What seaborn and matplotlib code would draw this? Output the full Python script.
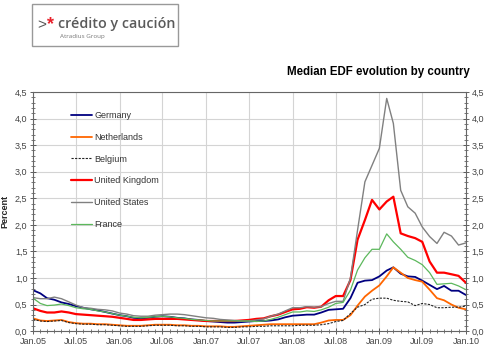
import matplotlib
matplotlib.use("Agg")
import matplotlib.pyplot as plt
import matplotlib.dates as mdates
import seaborn as sns
import numpy as np
import pandas as pd
from matplotlib.patches import Rectangle

# Median EDF per month, Jan.05 .. Jan.10 (61 points)
months = pd.date_range("2005-01-01", "2010-01-01", freq="MS")

germany = [0.77, 0.71, 0.62, 0.59, 0.54, 0.51, 0.47, 0.44, 0.41, 0.39, 0.36, 0.33,
           0.30, 0.28, 0.25, 0.24, 0.25, 0.27, 0.28, 0.27, 0.25, 0.24, 0.22, 0.21,
           0.19, 0.18, 0.17, 0.16, 0.16, 0.17, 0.18, 0.19, 0.19, 0.20, 0.22, 0.26,
           0.29, 0.30, 0.31, 0.31, 0.35, 0.40, 0.41, 0.42, 0.62, 0.91, 0.95, 0.96,
           1.03, 1.14, 1.20, 1.08, 1.03, 1.02, 0.95, 0.87, 0.79, 0.85, 0.76, 0.76,
           0.68]
netherlands = [0.24, 0.20, 0.19, 0.20, 0.21, 0.17, 0.15, 0.14, 0.14, 0.13, 0.13, 0.12,
               0.11, 0.10, 0.10, 0.10, 0.11, 0.12, 0.12, 0.12, 0.11, 0.11, 0.10, 0.10,
               0.09, 0.09, 0.09, 0.08, 0.08, 0.09, 0.10, 0.11, 0.12, 0.13, 0.13, 0.13,
               0.13, 0.13, 0.13, 0.13, 0.16, 0.20, 0.21, 0.21, 0.30, 0.48, 0.65, 0.76,
               0.86, 1.03, 1.20, 1.10, 1.00, 0.96, 0.93, 0.78, 0.62, 0.58, 0.50, 0.44,
               0.41]
belgium = [0.22, 0.19, 0.18, 0.19, 0.20, 0.16, 0.14, 0.13, 0.13, 0.12, 0.12, 0.11,
           0.10, 0.09, 0.09, 0.09, 0.10, 0.11, 0.11, 0.11, 0.10, 0.10, 0.09, 0.09,
           0.08, 0.08, 0.08, 0.07, 0.07, 0.08, 0.08, 0.09, 0.09, 0.10, 0.10, 0.10,
           0.10, 0.11, 0.11, 0.11, 0.12, 0.14, 0.18, 0.20, 0.33, 0.45, 0.50, 0.60,
           0.62, 0.62, 0.58, 0.56, 0.55, 0.48, 0.52, 0.50, 0.44, 0.44, 0.45, 0.45,
           0.47]
uk = [0.43, 0.38, 0.35, 0.35, 0.37, 0.35, 0.32, 0.31, 0.30, 0.29, 0.28, 0.27,
      0.25, 0.23, 0.21, 0.21, 0.22, 0.23, 0.23, 0.23, 0.23, 0.22, 0.21, 0.20,
      0.19, 0.19, 0.19, 0.19, 0.19, 0.20, 0.21, 0.23, 0.24, 0.28, 0.31, 0.36,
      0.41, 0.42, 0.45, 0.44, 0.46, 0.58, 0.66, 0.66, 0.96, 1.72, 2.09, 2.47,
      2.29, 2.44, 2.53, 1.84, 1.79, 1.75, 1.68, 1.31, 1.10, 1.10, 1.07, 1.04,
      0.91]
us = [0.63, 0.61, 0.61, 0.64, 0.61, 0.55, 0.49, 0.44, 0.43, 0.41, 0.40, 0.38,
      0.34, 0.32, 0.29, 0.28, 0.28, 0.30, 0.31, 0.32, 0.32, 0.31, 0.29, 0.27,
      0.25, 0.24, 0.22, 0.21, 0.20, 0.19, 0.19, 0.21, 0.23, 0.28, 0.32, 0.38,
      0.44, 0.44, 0.46, 0.45, 0.46, 0.52, 0.56, 0.56, 1.00, 1.90, 2.81, 3.12,
      3.44, 4.38, 3.91, 2.65, 2.34, 2.22, 1.96, 1.78, 1.65, 1.86, 1.79, 1.62,
      1.66]
france = [0.62, 0.52, 0.48, 0.49, 0.51, 0.48, 0.44, 0.42, 0.41, 0.38, 0.36, 0.33,
          0.30, 0.28, 0.26, 0.25, 0.26, 0.27, 0.28, 0.27, 0.25, 0.24, 0.22, 0.21,
          0.20, 0.19, 0.19, 0.19, 0.19, 0.19, 0.19, 0.18, 0.19, 0.22, 0.26, 0.31,
          0.36, 0.36, 0.38, 0.37, 0.40, 0.45, 0.52, 0.54, 0.77, 1.15, 1.38, 1.54,
          1.54, 1.83, 1.68, 1.54, 1.39, 1.33, 1.25, 1.10, 0.88, 0.89, 0.90, 0.85,
          0.78]

countries = ["Germany", "Netherlands", "Belgium", "United Kingdom", "United States", "France"]
series = [germany, netherlands, belgium, uk, us, france]

colores = ["#000080", "#FF6600", "#222222", "#FF0000", "#808080", "#5CB85C"]
grosores = [1.3, 1.3, 0.8, 1.6, 1.0, 0.9]

sns.set_theme(style="white")
plt.rcParams["font.family"] = ["Liberation Sans", "DejaVu Sans"]

fig = plt.figure(figsize=(4.93, 3.5), dpi=100)
ax = fig.add_axes([0.067, 0.054, 0.878, 0.683])

for nombre, vals, c, lw in zip(countries, series, colores, grosores):
    kw = {}
    if nombre == "Belgium":
        kw["dashes"] = (2, 1.2)
    sns.lineplot(x=months, y=vals, ax=ax, color=c, linewidth=lw, label=nombre, **kw)

# ejes
ax.set_xlim(months[0], months[-1])
ax.set_ylim(0, 4.5)
ax.set_yticks(np.arange(0, 4.51, 0.5))
ax.set_yticklabels([f"{v:.1f}".replace(".", ",") for v in np.arange(0, 4.51, 0.5)])
ax.yaxis.set_minor_locator(matplotlib.ticker.MultipleLocator(0.1))
ax.xaxis.set_major_locator(mdates.MonthLocator(bymonth=[1, 7]))
ax.xaxis.set_major_formatter(mdates.DateFormatter("%b.%y"))
ax.xaxis.set_minor_locator(mdates.MonthLocator())

ax.grid(True, which="major", color="#d4d4d4", linewidth=0.8)
ax.tick_params(axis="both", which="major", labelsize=6.5, colors="#444444",
               direction="inout", length=4, width=0.6, pad=2)
ax.tick_params(axis="both", which="minor", direction="inout", length=2.5,
               width=0.5, colors="#444444")
ax.tick_params(axis="y", which="both", left=True, right=True, labelright=True)
ax.tick_params(axis="x", which="both", bottom=True)

for s in ax.spines.values():
    s.set_color("#666666")
    s.set_linewidth(0.8)

ax.set_xlabel("")
ax.set_ylabel("Percent", fontsize=6.5, weight="bold", labelpad=4)

leg = ax.legend(loc="upper left", bbox_to_anchor=(0.07, 0.955), frameon=False,
                fontsize=6.5, handlelength=2.3, handletextpad=0.25, labelspacing=1.42)
for t in leg.get_texts():
    t.set_color("#333333")

# titulo
fig.text(0.953, 0.793, "Median EDF evolution by country", ha="right", va="center",
         fontsize=8.3, weight="bold", color="black")

# logo
fig.add_artist(Rectangle((0.065, 0.868), 0.296, 0.12, transform=fig.transFigure,
                         fill=False, edgecolor="#999999", linewidth=1.0))
fig.text(0.085, 0.927, ">", fontsize=11, color="#555555", ha="center", va="center")
fig.text(0.102, 0.93, "*", fontsize=13, color="#e8202a", ha="center", va="center",
         weight="bold")
fig.text(0.117, 0.932, "crédito y caución", fontsize=10.3, color="#5a5a5a",
         ha="left", va="center", weight="semibold", family=["Open Sans", "DejaVu Sans"])
fig.text(0.122, 0.895, "Atradius Group", fontsize=4.5, color="#777777",
         ha="left", va="center", family=["Open Sans", "DejaVu Sans"])

plt.savefig("out.png", dpi=100)
